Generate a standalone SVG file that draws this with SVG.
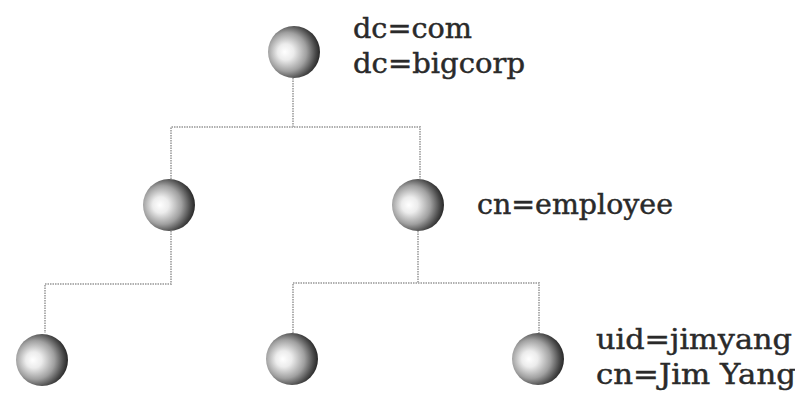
<svg xmlns="http://www.w3.org/2000/svg" width="795" height="395" viewBox="0 0 795 395">
<defs>
<radialGradient id="ball" cx="0.4" cy="0.5" r="0.62" fx="0.32" fy="0.5">
<stop offset="0" stop-color="#ffffff"/>
<stop offset="0.25" stop-color="#ececec"/>
<stop offset="0.6" stop-color="#a0a0a0"/>
<stop offset="0.85" stop-color="#4a4a4a"/>
<stop offset="1" stop-color="#1e1e1e"/>
</radialGradient>
<style>
.ball{fill:url(#ball)}
.lbl{font-family:"DejaVu Serif","Liberation Serif",serif;font-size:27px;fill:#2a2a2a;stroke:#2a2a2a;stroke-width:0.45}
.conn{fill:none;stroke:#b0b0b0;stroke-width:2;stroke-dasharray:1.5 1}
</style>
</defs>
<rect width="795" height="395" fill="#ffffff"/>
<g id="connectors">
<path class="conn" d="M293,78 V127"/>
<path class="conn" d="M171,179 V127 H420 V179"/>
<path class="conn" d="M171,231 V284 H45 V333"/>
<path class="conn" d="M418,231 V283"/>
<path class="conn" d="M293,333 V283 H539 V333"/>
</g>
<g id="root">
<circle class="ball" cx="294" cy="52" r="26"/>
<text class="lbl" x="353" y="38" textLength="119" lengthAdjust="spacingAndGlyphs">dc=com</text>
<text class="lbl" x="353" y="73" textLength="172" lengthAdjust="spacingAndGlyphs">dc=bigcorp</text>
</g>
<g id="mid-left">
<circle class="ball" cx="169" cy="205" r="26"/>
</g>
<g id="employee">
<circle class="ball" cx="418" cy="205" r="26"/>
<text class="lbl" x="477" y="214" textLength="196" lengthAdjust="spacingAndGlyphs">cn=employee</text>
</g>
<g id="leaf-1">
<circle class="ball" cx="42" cy="360" r="26"/>
</g>
<g id="leaf-2">
<circle class="ball" cx="292" cy="359" r="26"/>
</g>
<g id="jimyang">
<circle class="ball" cx="538" cy="359" r="26"/>
<text class="lbl" x="596" y="349" textLength="196" lengthAdjust="spacingAndGlyphs">uid=jimyang</text>
<text class="lbl" x="596" y="384" textLength="200" lengthAdjust="spacingAndGlyphs">cn=Jim Yang</text>
</g>
</svg>
